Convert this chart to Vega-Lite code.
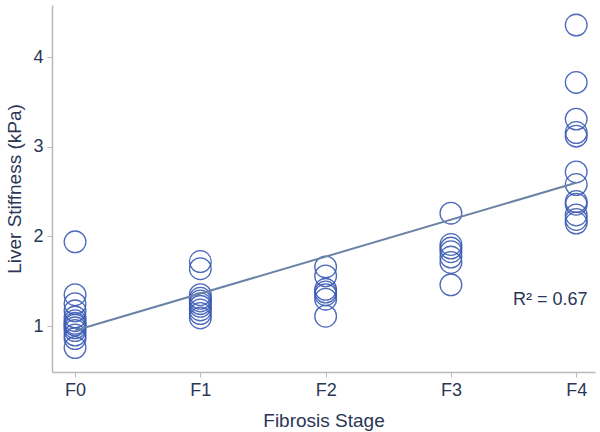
{
  "$schema": "https://vega.github.io/schema/vega-lite/v6.json",
  "width": 543,
  "height": 367,
  "autosize": "none",
  "padding": {"left": 52, "top": 5, "right": 5, "bottom": 60},
  "background": "white",
  "config": {
    "view": {"stroke": null},
    "font": "Liberation Sans",
    "axis": {
      "grid": false,
      "domainColor": "#b9b9b9",
      "domainWidth": 1.5,
      "tickColor": "#b9b9b9",
      "tickSize": 5,
      "labelFontSize": 18,
      "labelColor": "#2a3656",
      "titleFontSize": 19,
      "titleFontWeight": "normal",
      "titleColor": "#2a3656"
    }
  },
  "datasets": {
    "points": [
      {"stage": 0, "stiffness": 1.94},
      {"stage": 0, "stiffness": 1.35},
      {"stage": 0, "stiffness": 1.25},
      {"stage": 0, "stiffness": 1.17},
      {"stage": 0, "stiffness": 1.1},
      {"stage": 0, "stiffness": 1.06},
      {"stage": 0, "stiffness": 1.03},
      {"stage": 0, "stiffness": 1.01},
      {"stage": 0, "stiffness": 0.98},
      {"stage": 0, "stiffness": 0.95},
      {"stage": 0, "stiffness": 0.9},
      {"stage": 0, "stiffness": 0.86},
      {"stage": 0, "stiffness": 0.76},
      {"stage": 1, "stiffness": 1.72},
      {"stage": 1, "stiffness": 1.64},
      {"stage": 1, "stiffness": 1.35},
      {"stage": 1, "stiffness": 1.31},
      {"stage": 1, "stiffness": 1.28},
      {"stage": 1, "stiffness": 1.25},
      {"stage": 1, "stiffness": 1.22},
      {"stage": 1, "stiffness": 1.18},
      {"stage": 1, "stiffness": 1.14},
      {"stage": 1, "stiffness": 1.09},
      {"stage": 2, "stiffness": 1.66},
      {"stage": 2, "stiffness": 1.56},
      {"stage": 2, "stiffness": 1.41},
      {"stage": 2, "stiffness": 1.38},
      {"stage": 2, "stiffness": 1.35},
      {"stage": 2, "stiffness": 1.3},
      {"stage": 2, "stiffness": 1.11},
      {"stage": 3, "stiffness": 2.26},
      {"stage": 3, "stiffness": 1.91},
      {"stage": 3, "stiffness": 1.87},
      {"stage": 3, "stiffness": 1.83},
      {"stage": 3, "stiffness": 1.77},
      {"stage": 3, "stiffness": 1.71},
      {"stage": 3, "stiffness": 1.46},
      {"stage": 4, "stiffness": 4.36},
      {"stage": 4, "stiffness": 3.72},
      {"stage": 4, "stiffness": 3.31},
      {"stage": 4, "stiffness": 3.16},
      {"stage": 4, "stiffness": 3.12},
      {"stage": 4, "stiffness": 2.72},
      {"stage": 4, "stiffness": 2.58},
      {"stage": 4, "stiffness": 2.39},
      {"stage": 4, "stiffness": 2.36},
      {"stage": 4, "stiffness": 2.24},
      {"stage": 4, "stiffness": 2.19},
      {"stage": 4, "stiffness": 2.15}
    ],
    "fit": [
      {"stage": 0, "stiffness": 0.95},
      {"stage": 4, "stiffness": 2.6}
    ],
    "note": [
      {"stage": 4.09, "stiffness": 1.29, "label": "R² = 0.67"}
    ]
  },
  "layer": [
    {
      "data": {"name": "points"},
      "mark": {"type": "point", "shape": "circle", "filled": false, "size": 470, "strokeWidth": 1.3, "color": "#3a5ab5", "opacity": 0.9},
      "encoding": {
        "x": {
          "field": "stage", "type": "quantitative",
          "scale": {"domain": [-0.184, 4.15], "nice": false, "zero": false},
          "axis": {"values": [0, 1, 2, 3, 4], "labelExpr": "'F' + datum.value", "title": "Fibrosis Stage", "labelPadding": 4, "titlePadding": 12, "labelFlush": false}
        },
        "y": {
          "field": "stiffness", "type": "quantitative",
          "scale": {"domain": [0.487, 4.584], "nice": false, "zero": false},
          "axis": {"values": [1, 2, 3, 4], "format": "d", "title": "Liver Stiffness (kPa)", "labelPadding": 4, "titlePadding": 8, "labelFlush": false}
        }
      }
    },
    {
      "data": {"name": "fit"},
      "mark": {"type": "line", "color": "#6b83a7", "strokeWidth": 2},
      "encoding": {
        "x": {"field": "stage", "type": "quantitative"},
        "y": {"field": "stiffness", "type": "quantitative"}
      }
    },
    {
      "data": {"name": "note"},
      "mark": {"type": "text", "align": "right", "baseline": "middle", "fontSize": 18, "color": "#2a3656"},
      "encoding": {
        "x": {"field": "stage", "type": "quantitative"},
        "y": {"field": "stiffness", "type": "quantitative"},
        "text": {"field": "label"}
      }
    }
  ]
}
